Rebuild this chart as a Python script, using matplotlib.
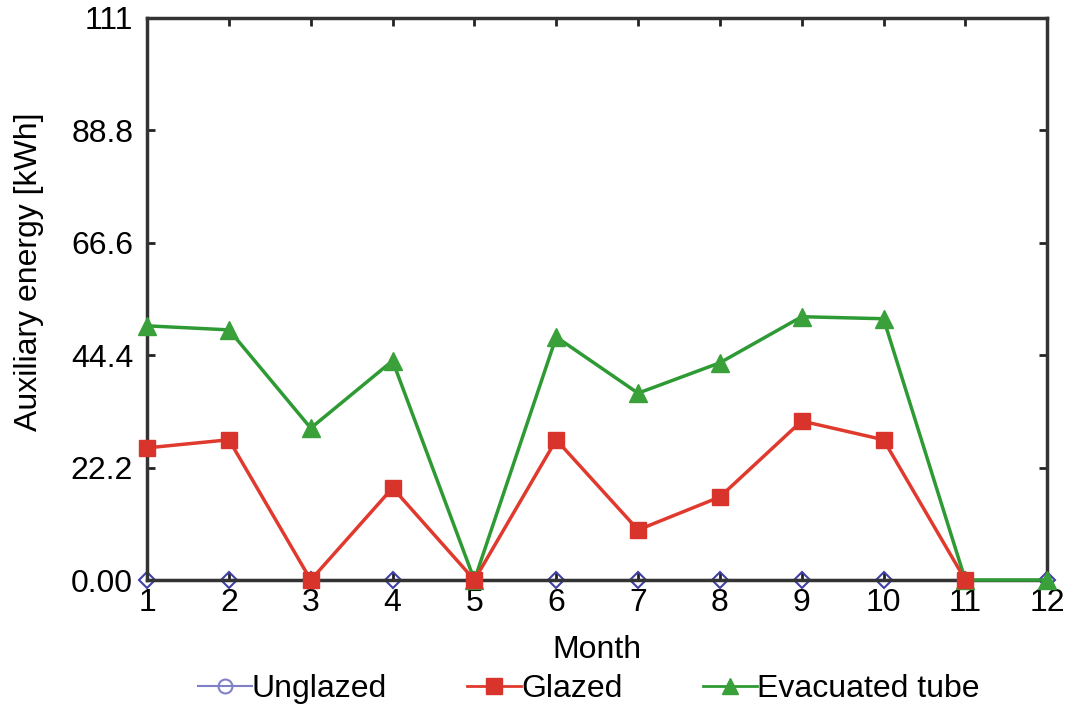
import numpy as np
import matplotlib
matplotlib.use("Agg")
import matplotlib.pyplot as plt
from matplotlib.lines import Line2D

plt.rcParams['font.family'] = ['Liberation Sans', 'DejaVu Sans']

months = list(range(1, 13))
unglazed = [0, 0, 0, 0, 0, 0, 0, 0, 0, 0, 0, 0]
glazed = [26.1, 27.7, 0, 18.2, 0, 27.7, 9.9, 16.4, 31.4, 27.7, 0, np.nan]
evacuated = [50.2, 49.4, 30.0, 43.3, 0, 48.0, 36.9, 42.9, 52.0, 51.6, 0, 0]
yticks = [0, 22.2, 44.4, 66.6, 88.8, 111]
ytick_labels = ["0.00", "22.2", "44.4", "66.6", "88.8", "111"]

fig = plt.figure(figsize=(10.74, 7.07), dpi=100)
ax = fig.add_axes([0.137, 0.1796, 0.838, 0.795])

ax.plot(months, unglazed, color="#3a3aa0", lw=1.5, marker="D", ms=8,
        mfc="none", mec="#4040a8", mew=1.5, zorder=2, clip_on=False)
ax.plot(months, evacuated, color="#2e9a34", lw=2.5, marker="^", ms=13,
        mfc="#3aa03a", mec="#3aa03a", zorder=3, clip_on=False)
ax.plot(months, glazed, color="#e03a2e", lw=2.5, marker="s", ms=12,
        mfc="#d8342c", mec="#d8342c", zorder=4, clip_on=False)

ax.set_xlim(1, 12)
ax.set_ylim(0, 111)
ax.set_xticks(months)
ax.set_yticks(yticks)
ax.set_yticklabels(ytick_labels)
ax.tick_params(direction="in", length=6, width=2, labelsize=23, top=True,
               right=True, colors="#222222", labelcolor="black")
ax.tick_params(axis="x", pad=6)
ax.tick_params(axis="y", pad=10)
for s in ax.spines.values():
    s.set_linewidth(2.5)
    s.set_color("#333333")

ax.set_xlabel("Month", fontsize=23, labelpad=12)
ax.set_ylabel("Auxiliary energy [kWh]", fontsize=23)
ax.yaxis.set_label_coords(-0.115, 0.548)

handles = [
    Line2D([], [], color="#8080c8", lw=1.5, marker="o", ms=10, mfc="none",
           mec="#8080c8", mew=1.5),
    Line2D([], [], color="#e03a2e", lw=2, marker="s", ms=11,
           mfc="#d8342c", mec="#d8342c"),
    Line2D([], [], color="#2e9a34", lw=2, marker="^", ms=11,
           mfc="#3aa03a", mec="#3aa03a"),
]
fig.legend(handles, ["Unglazed", "Glazed", "Evacuated tube"],
           loc="center", bbox_to_anchor=(0.548, 0.025), ncol=3, frameon=False,
           fontsize=23, handlelength=1.7, handletextpad=0.0,
           columnspacing=2.5)

fig.savefig("out.png", dpi=100)
